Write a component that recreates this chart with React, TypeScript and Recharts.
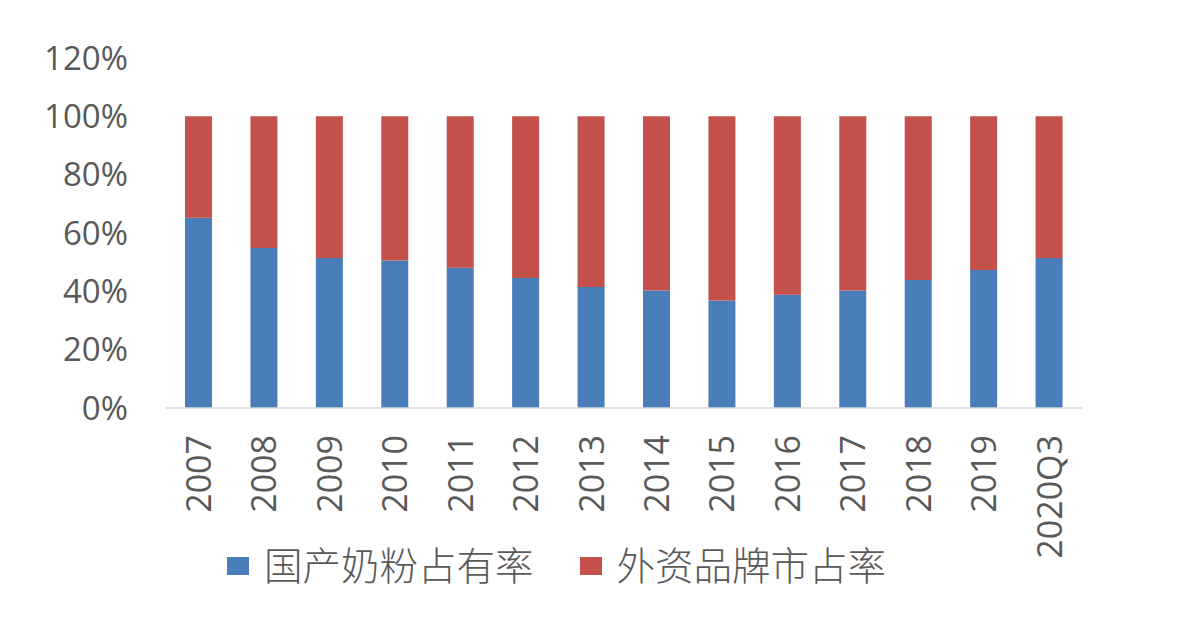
import { Bar, BarChart, Legend, XAxis, YAxis } from 'recharts';

const categories = ['2007', '2008', '2009', '2010', '2011', '2012', '2013', '2014', '2015', '2016', '2017', '2018', '2019', '2020Q3'];
const domesticShare = [65.2, 54.9, 51.4, 50.6, 48.1, 44.6, 41.5, 40.3, 36.9, 38.8, 40.3, 43.9, 47.3, 51.4];
const foreignShare = [34.8, 45.1, 48.6, 49.4, 51.9, 55.4, 58.5, 59.7, 63.1, 61.2, 59.7, 56.1, 52.7, 48.6];
const yTicks = [0, 20, 40, 60, 80, 100, 120];

const seriesNames = { domestic: '国产奶粉占有率', foreign: '外资品牌市占率' };
const BLUE = '#4a7ebb';
const RED = '#c4504b';
const TEXT = '#595959';

const data = categories.map((year, i) => ({
  year,
  domestic: domesticShare[i],
  foreign: foreignShare[i],
}));

function YearTick({ x, y, payload }: any) {
  return (
    <text
      x={x}
      y={y + 19}
      dy="0.36em"
      transform={`rotate(-90, ${x}, ${y + 19})`}
      textAnchor="end"
      fill={TEXT}
      fontSize={34}
      fontFamily="'Open Sans', 'Liberation Sans', sans-serif"
    >
      {payload.value}
    </text>
  );
}

function LegendBox() {
  const items = [
    { label: seriesNames.domestic, color: BLUE, gap: 46 },
    { label: seriesNames.foreign, color: RED, gap: 0 },
  ];
  return (
    <div style={{ display: 'flex', alignItems: 'center', height: 40 }}>
      {items.map((it) => (
        <div key={it.label} style={{ display: 'flex', alignItems: 'center', marginRight: it.gap }}>
          <span style={{ width: 22, height: 18, background: it.color, display: 'inline-block', marginRight: 15, marginTop: 6 }} />
          <span
            style={{
              fontSize: 38.5,
              color: TEXT,
              fontFamily: "'Noto Sans CJK SC', sans-serif",
              lineHeight: '40px',
              fontWeight: 300,
            }}
          >
            {it.label}
          </span>
        </div>
      ))}
    </div>
  );
}

export default function App() {
  return (
    <div style={{ width: 1182, height: 642, background: '#fff' }}>
      <style>{'body{margin:0}'}</style>
      <BarChart width={1182} height={642} data={data} margin={{ top: 58, right: 100, bottom: 0, left: 0 }}>
        <XAxis
          dataKey="year"
          height={234}
          axisLine={{ stroke: '#d9d9d9', strokeWidth: 1.5 }}
          tickLine={false}
          interval={0}
          tick={<YearTick />}
        />
        <YAxis
          width={166}
          domain={[0, 120]}
          ticks={yTicks}
          tickFormatter={(v) => `${v}%`}
          axisLine={false}
          tickLine={false}
          tickSize={0}
          tickMargin={38}
          tick={{ fill: TEXT, fontSize: 33, fontFamily: "'Open Sans', 'Liberation Sans', sans-serif" }}
        />
        <Legend
          layout="horizontal"
          verticalAlign="middle"
          align="center"
          wrapperStyle={{ top: 543, left: 227, width: 'auto' }}
          content={<LegendBox />}
        />
        <Bar dataKey="domestic" name={seriesNames.domestic} stackId="a" fill={BLUE} barSize={27} isAnimationActive={false} />
        <Bar dataKey="foreign" name={seriesNames.foreign} stackId="a" fill={RED} barSize={27} isAnimationActive={false} />
      </BarChart>
    </div>
  );
}
